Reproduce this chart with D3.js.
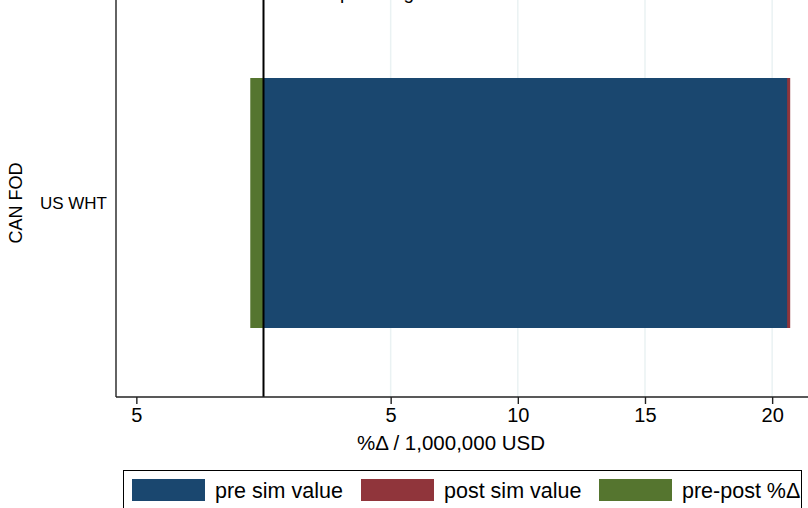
<!DOCTYPE html>
<html>
<head>
<meta charset="utf-8">
<script src="https://cdn.jsdelivr.net/npm/d3@7"></script>
<style>
  html, body { margin: 0; padding: 0; background: #fff; }
  svg { display: block; font-family: "Liberation Sans", Arial, Helvetica, sans-serif; }
</style>
</head>
<body>
<svg id="chart" width="808" height="508"></svg>
<script>
// Trade flow values (1,000,000 USD) and percentage change
const categories = ["US WHT"];
const groupLabel = "CAN FOD";
const preSim = [20.59];
const postSim = [20.71];
const prePostPct = [-0.52];
const xTicks = [-5, 5, 10, 15, 20];
const gridTicks = [5, 10, 15, 20];
const seriesNames = ["pre sim value", "post sim value", "pre-post %\u0394"];
const seriesColors = ["#1a476f", "#90353b", "#55752f"];
const titleText = "Top trading flows";
const xTitle = "%\u0394 / 1,000,000 USD";

const svg = d3.select("#chart");
const plot = { left: 116, right: 808, top: 9, bottom: 397 };

const x = d3.scaleLinear().domain([-5.8, 21.41]).range([plot.left, plot.right]);
const y = d3.scaleBand().domain(categories).range([plot.top, plot.bottom])
  .paddingInner(0).paddingOuter(0.276);

// title (mostly above the visible area)
svg.append("text").attr("x", 320).attr("y", -1)
  .attr("font-size", 19).attr("fill", "#000").text(titleText);

// vertical grid lines
svg.append("g").selectAll("line").data(gridTicks).join("line")
  .attr("x1", d => x(d)).attr("x2", d => x(d))
  .attr("y1", 0).attr("y2", plot.bottom)
  .attr("stroke", "#eaf2f3").attr("stroke-width", 1.5);

// bars: post sim behind, pre sim on top, pct change
const bars = svg.append("g");
categories.forEach((c, i) => {
  bars.append("rect")
    .attr("x", x(0)).attr("width", x(postSim[i]) - x(0))
    .attr("y", y(c)).attr("height", y.bandwidth())
    .attr("fill", seriesColors[1]);
  bars.append("rect")
    .attr("x", x(0)).attr("width", x(preSim[i]) - x(0))
    .attr("y", y(c)).attr("height", y.bandwidth())
    .attr("fill", seriesColors[0]);
  const p = prePostPct[i];
  bars.append("rect")
    .attr("x", x(Math.min(0, p))).attr("width", Math.abs(x(p) - x(0)))
    .attr("y", y(c)).attr("height", y.bandwidth())
    .attr("fill", seriesColors[2]);
});

// zero reference line
svg.append("line")
  .attr("x1", x(0)).attr("x2", x(0)).attr("y1", 0).attr("y2", plot.bottom)
  .attr("stroke", "#000").attr("stroke-width", 2);

// left axis line
svg.append("line")
  .attr("x1", plot.left).attr("x2", plot.left).attr("y1", 0).attr("y2", plot.bottom)
  .attr("stroke", "#222").attr("stroke-width", 1.4);

// bottom axis
const xAxis = d3.axisBottom(x).tickValues(xTicks).tickSize(7).tickPadding(4)
  .tickFormat(d => d3.format("d")(Math.abs(d)));
const gx = svg.append("g").attr("transform", `translate(0,${plot.bottom})`).call(xAxis);
gx.select(".domain").attr("d", `M${plot.left},0H${plot.right}`)
  .attr("stroke", "#222").attr("stroke-width", 1.4);
gx.selectAll(".tick line").attr("stroke", "#222").attr("stroke-width", 1.4);
gx.selectAll(".tick text").attr("font-size", 20).attr("fill", "#000")
  .attr("font-family", "Liberation Sans, Arial, sans-serif");

svg.append("text").attr("x", 451).attr("y", 450).attr("text-anchor", "middle")
  .attr("font-size", 20.5).attr("fill", "#000").text(xTitle);

// category labels
svg.append("g").selectAll("text").data(categories).join("text")
  .attr("x", 107).attr("y", d => y(d) + y.bandwidth() / 2)
  .attr("dy", "0.35em").attr("text-anchor", "end")
  .attr("font-size", 17).attr("fill", "#000").text(d => d);

svg.append("text")
  .attr("transform", `translate(22,${y(categories[0]) + y.bandwidth() / 2}) rotate(-90)`)
  .attr("text-anchor", "middle").attr("font-size", 18).attr("fill", "#000")
  .text(groupLabel);

// legend
svg.append("rect").attr("x", 123.5).attr("y", 470.5).attr("width", 678).attr("height", 60)
  .attr("fill", "#fff").attr("stroke", "#000").attr("stroke-width", 1);
const legendX = [132, 361, 599];
const leg = svg.append("g").selectAll("g").data(seriesNames).join("g")
  .attr("transform", (d, i) => `translate(${legendX[i]},479)`);
leg.append("rect").attr("width", 73).attr("height", 22)
  .attr("fill", (d, i) => seriesColors[i]);
leg.append("text").attr("x", 83).attr("y", 11).attr("dy", "0.35em")
  .attr("font-size", 21.5).attr("fill", "#000").text(d => d);
</script>
</body>
</html>
